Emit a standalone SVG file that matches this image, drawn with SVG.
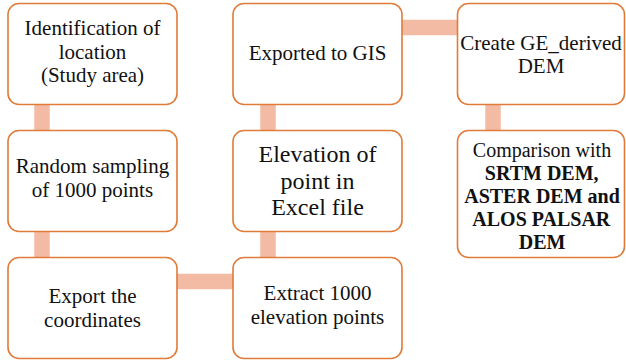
<svg xmlns="http://www.w3.org/2000/svg" width="626" height="362" viewBox="0 0 626 362">
<defs>
<rect id="bx" width="169" height="101" rx="11" fill="#fff" stroke="#E07B39" stroke-width="1.6"/>
</defs>
<rect width="626" height="362" fill="#fff"/>
<g id="connectors" stroke="#F4BBA4" stroke-width="15.5" fill="none">
<line x1="42" y1="100" x2="42" y2="134"/>
<line x1="42" y1="228" x2="42" y2="261"/>
<line x1="173" y1="281.5" x2="237" y2="281.5"/>
<line x1="268" y1="228" x2="268" y2="261"/>
<line x1="268" y1="100" x2="268" y2="134"/>
<line x1="398" y1="27.5" x2="461" y2="27.5"/>
<line x1="493" y1="100" x2="493" y2="134"/>
</g>
<g id="n1"><use href="#bx" x="8" y="3.5"/>
<text x="24.6" y="35" font-family="Liberation Serif" font-size="21" fill="#111">Identification of</text>
<text x="58.7" y="58.5" font-family="Liberation Serif" font-size="21" fill="#111">location</text>
<text x="40.9" y="82" font-family="Liberation Serif" font-size="21" fill="#111">(Study area)</text></g>
<g id="n2"><use href="#bx" x="8" y="130.5"/>
<text x="15.8" y="173" font-family="Liberation Serif" font-size="21" fill="#111">Random sampling</text>
<text x="31.8" y="197" font-family="Liberation Serif" font-size="21" fill="#111">of 1000 points</text></g>
<g id="n3"><use href="#bx" x="8" y="257.5"/>
<text x="48.5" y="303" font-family="Liberation Serif" font-size="21" fill="#111">Export the</text>
<text x="44.1" y="327" font-family="Liberation Serif" font-size="21" fill="#111">coordinates</text></g>
<g id="n4"><use href="#bx" x="233" y="257.5"/>
<text x="263.6" y="300" font-family="Liberation Serif" font-size="21" fill="#111">Extract 1000</text>
<text x="250.7" y="323.5" font-family="Liberation Serif" font-size="21" fill="#111">elevation points</text></g>
<g id="n5"><use href="#bx" x="233" y="130.5"/>
<text x="258.5" y="162" font-family="Liberation Serif" font-size="24" fill="#111">Elevation of</text>
<text x="280.5" y="188.5" font-family="Liberation Serif" font-size="24" fill="#111">point in</text>
<text x="271.2" y="215" font-family="Liberation Serif" font-size="24" fill="#111">Excel file</text></g>
<g id="n6"><use href="#bx" x="233" y="3.5"/>
<text x="248.7" y="59.5" font-family="Liberation Serif" font-size="21" fill="#111">Exported to GIS</text></g>
<g id="n7"><rect x="457.5" y="3.5" width="167" height="101" rx="11" fill="#fff" stroke="#E07B39" stroke-width="1.6"/>
<text x="460.3" y="50" font-family="Liberation Serif" font-size="21" fill="#111">Create GE_derived</text>
<text x="517.7" y="73" font-family="Liberation Serif" font-size="21" fill="#111">DEM</text></g>
<g id="n8"><rect x="457.5" y="130.5" width="167" height="127" rx="11" fill="#fff" stroke="#E07B39" stroke-width="1.6"/>
<text x="472.8" y="157" font-family="Liberation Serif" font-size="20" fill="#111">Comparison with</text>
<text x="484.8" y="180" font-family="Liberation Serif" font-size="20" font-weight="bold" fill="#111">SRTM DEM,</text>
<text x="464.2" y="203" font-family="Liberation Serif" font-size="20" font-weight="bold" fill="#111">ASTER DEM and</text>
<text x="472.3" y="226" font-family="Liberation Serif" font-size="20" font-weight="bold" fill="#111">ALOS PALSAR</text>
<text x="518.7" y="249" font-family="Liberation Serif" font-size="20" font-weight="bold" fill="#111">DEM</text></g>
</svg>
